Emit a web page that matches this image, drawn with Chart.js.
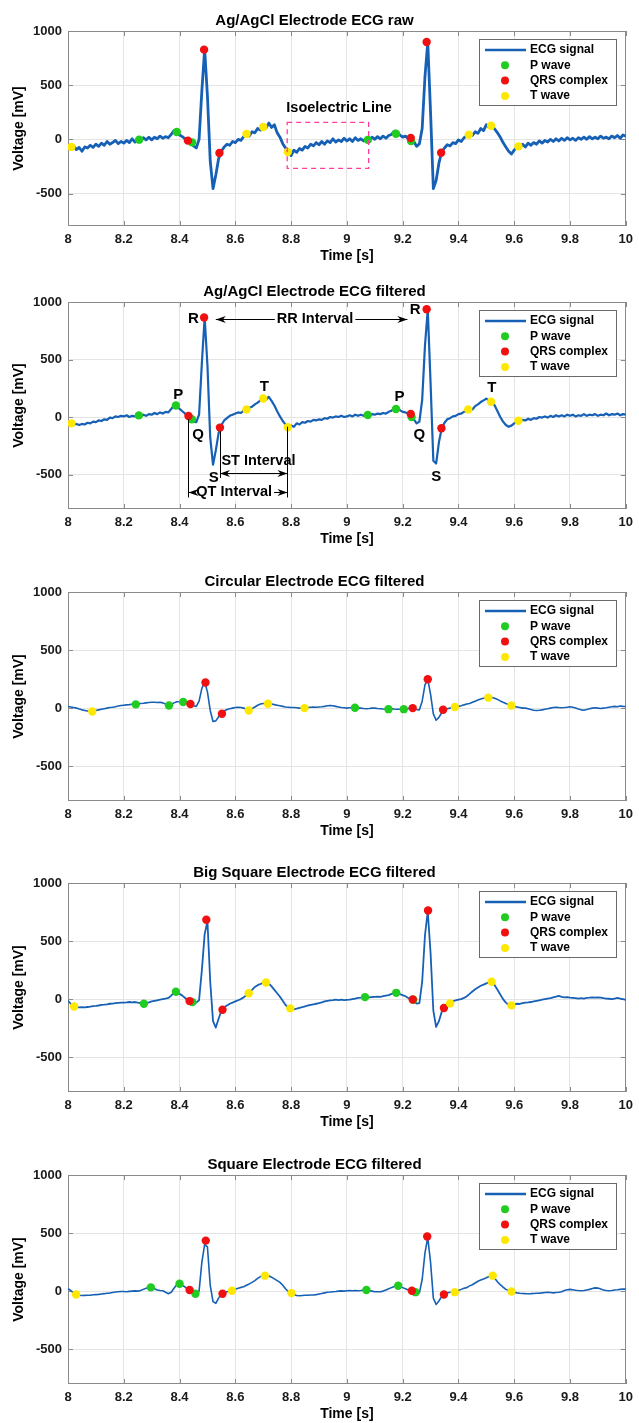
<!DOCTYPE html>
<html>
<head>
<meta charset="utf-8">
<title>ECG electrodes</title>
<script src="https://cdn.jsdelivr.net/npm/chart.js@4.4.0/dist/chart.umd.min.js"></script>
<style>
    body { margin: 0; background: #fff; width: 639px; height: 1423px; position: relative; overflow: hidden; }
    canvas { position: absolute; left: 0; }
</style>
</head>
<body>
<canvas id="ecg1"></canvas>
<canvas id="ecg2"></canvas>
<canvas id="ecg3"></canvas>
<canvas id="ecg4"></canvas>
<canvas id="ecg5"></canvas>
<script>
// ---- data (mV, sampled every 10 ms from 8.00 s to 10.00 s) ----
const sampleStart = 8.0;
const sampleStep = 0.01;

const xTicks = [8, 8.2, 8.4, 8.6, 8.8, 9, 9.2, 9.4, 9.6, 9.8, 10];
const yTicks = [-500, 0, 500, 1000];

const rawAgAgCl = [
    -70, -85, -60, -95, -75, -110, -70, -80, -55, -75,
    -45, -65, -35, -55, -20, -45, -30, -10, -40, -20,
    -35, -10, -30, 5, -25, -5, -20, 15, -5, 20,
    -5, 20, 5, 30, 10, 25, 15, 45, 80, 65,
    40, 25, 5, -10, -25, -60, -80, 0, 450, 830,
    400, -200, -455, -330, -180, -110, -70, -45, -55, -20,
    -30, 0, -10, 25, 45, 30, 70, 60, 100, 85,
    125, 105, 150, 110, 135, 60, 20, -40, -80, -115,
    -150, -100, -120, -85, -100, -65, -80, -45, -60, -30,
    -50, -20, -45, -15, -30, 5, -25, -5, -20, 10,
    -15, 5, -20, 15, -10, 5, -15, 10, -5, 20,
    0, 25, 5, 30, 10, 35, 45, 75, 55, 40,
    20, 30, 5, 10, -20, -65, -40, 100, 580, 895,
    250, -455, -380, -220, -115, -80, -50, -60, -30, -40,
    -5, -20, 15, 30, 45, 35, 70, 55, 100, 80,
    135, 110, 130, 95, 60, 20, -30, -70, -110, -135,
    -100, -70, -85, -45, -70, -35, -55, -30, -45, -15,
    -35, -10, -25, 0, -20, 5, -15, 10, -10, 15,
    -5, 10, -10, 15, 0, 20, 0, 25, 5, 20,
    5, 30, 10, 20, 5, 30, 15, 35, 10, 40, 30
];
const rawP = [[8.255, -3], [8.39, 68], [8.445, -28], [9.075, -5], [9.176, 52], [9.23, -15]];
const rawQRS = [[8.43, -12], [8.488, 828], [8.543, -126], [9.229, 12], [9.286, 898], [9.338, -123]];
const rawT = [[8.012, -70], [8.64, 50], [8.70, 114], [8.788, -117], [9.437, 43], [9.517, 126], [9.615, -65]];

const filtAgAgCl = [
    -50, -55, -65, -60, -70, -60, -65, -50, -55, -40,
    -45, -30, -35, -20, -25, -5, -10, 5, 0, 10,
    5, 15, 0, 10, 5, 15, 5, 20, 10, 25,
    20, 35, 25, 40, 30, 45, 40, 70, 100, 95,
    70, 50, 30, 10, -15, -40, -45, 20, 470, 865,
    450, -180, -415, -290, -140, -70, -30, -10, 10, 20,
    30, 40, 35, 55, 65, 80, 90, 110, 125, 145,
    160, 150, 175, 140, 100, 50, 5, -35, -65, -90,
    -75, -85, -55, -65, -45, -50, -35, -40, -25, -30,
    -20, -25, -10, -15, 0, -5, 5, 0, 10, 0,
    5, 15, 5, 20, 10, 20, 10, 20, 15, 25,
    20, 30, 25, 35, 30, 45, 55, 75, 80, 60,
    45, 40, 30, 10, -20, -55, -40, 150, 620, 935,
    300, -380, -405, -220, -100, -50, -20, -10, 5, 10,
    25, 30, 45, 55, 70, 65, 95, 110, 130, 145,
    160, 140, 130, 100, 50, 0, -40, -70, -85, -75,
    -55, -35, -40, -25, -30, -15, -25, -10, -15, 0,
    -5, 5, -5, 10, 0, 15, 5, 15, 5, 20,
    10, 20, 5, 15, 10, 25, 10, 20, 15, 25,
    10, 20, 15, 30, 15, 25, 20, 30, 15, 25, 20
];
const filtP = [[8.254, 14], [8.387, 100], [8.444, -20], [9.075, 17], [9.176, 69], [9.232, 0]];
const filtQRS = [[8.432, 9], [8.488, 865], [8.545, -92], [9.229, 26], [9.286, 937], [9.339, -98]];
const filtT = [[8.012, -55], [8.64, 66], [8.70, 161], [8.788, -89], [9.435, 66], [9.517, 132], [9.615, -32]];

const circular = [
    14, 10, 5, 0, -8, -15, -20, -25, -28, -25,
    -20, -15, -10, -5, 0, 5, 8, 12, 18, 22,
    25, 28, 30, 33, 35, 38, 40, 42, 45, 48,
    50, 50, 48, 50, 45, 35, 25, 30, 45, 55,
    55, 52, 45, 38, 30, 20, 15, 60, 170, 225,
    140, -20, -115, -110, -75, -45, -25, -12, -5, 0,
    5, 8, 5, 0, -10, -15, -5, 10, 25, 35,
    40, 42, 40, 35, 30, 25, 20, 15, 10, 8,
    5, 5, 3, 0, 0, 3, 5, 8, 10, 8,
    10, 12, 15, 20, 22, 20, 15, 10, 5, 3,
    0, 3, 5, 3, 0, 0, -3, -5, -3, 0,
    0, -3, -5, -8, -10, -8, -5, -8, -10, -10,
    -8, -5, -3, 0, -5, -12, -15, 60, 200, 250,
    120, -50, -105, -80, -40, -15, -5, 0, 5, 10,
    15, 20, 28, 35, 40, 50, 60, 70, 78, 85,
    92, 96, 92, 85, 75, 62, 50, 40, 30, 22,
    15, 10, 5, 0, 0, -5, -12, -18, -20, -18,
    -15, -10, -5, 0, 5, 8, 5, 3, 5, 8,
    12, 8, 0, -8, -15, -18, -12, -5, 0, 3,
    0, -3, 0, 3, 8, 12, 15, 12, 18, 15, 14
];
const circP = [[8.243, 32], [8.362, 23], [8.413, 52], [9.029, 3], [9.149, -9], [9.204, -9]];
const circQRS = [[8.439, 35], [8.493, 220], [8.552, -49], [9.236, 0], [9.29, 249], [9.345, -14]];
const circT = [[8.087, -29], [8.648, -20], [8.717, 38], [8.848, 0], [9.387, 9], [9.507, 90], [9.59, 23]];

const bigSquare = [
    -14, -40, -60, -68, -72, -70, -72, -68, -65, -60,
    -58, -55, -50, -48, -45, -40, -38, -35, -32, -30,
    -30, -28, -25, -28, -25, -30, -35, -40, -35, -28,
    -20, -15, -10, -5, 0, 5, 10, 30, 55, 60,
    45, 30, 10, -10, -22, -28, -30, -10, 250, 560,
    670, 150, -190, -245, -170, -100, -70, -55, -40, -30,
    -20, -10, 0, 15, 35, 55, 80, 105, 120, 130,
    140, 140, 135, 110, 80, 50, 20, -15, -50, -75,
    -90, -88, -82, -75, -70, -62, -55, -50, -45, -40,
    -35, -28, -20, -15, -10, -8, -5, -8, -5, -8,
    -6, -5, 0, 5, 10, 12, 15, 18, 15, 18,
    20, 22, 20, 25, 30, 35, 45, 52, 50, 42,
    35, 25, 10, -3, -20, -38, -35, 150, 550, 755,
    400, -100, -240, -190, -110, -70, -50, -35, -20, -10,
    -5, 0, 10, 25, 45, 65, 85, 100, 115, 125,
    135, 145, 145, 120, 80, 40, 0, -30, -50, -55,
    -45, -40, -42, -35, -30, -28, -25, -20, -15, -10,
    -5, 0, 5, 8, 15, 22, 28, 20, 15, 18,
    12, 10, 8, 5, 8, 5, 10, 12, 15, 12,
    15, 12, 8, 5, 3, 0, 5, 10, 5, 0, -6
];
const bigP = [[8.272, -40], [8.387, 63], [8.446, -26], [9.065, 17], [9.177, 54], [9.238, -5]];
const bigQRS = [[8.436, -17], [8.496, 683], [8.554, -91], [9.236, -3], [9.291, 763], [9.348, -77]];
const bigT = [[8.022, -63], [8.648, 51], [8.71, 143], [8.797, -80], [9.37, -37], [9.519, 149], [9.59, -54]];

const square = [
    20, 5, -15, -28, -35, -38, -37, -36, -35, -32,
    -30, -28, -25, -22, -18, -17, -12, -8, -5, -3,
    -3, -5, -2, 0, 2, 0, 5, 15, 25, 32,
    30, 20, 10, 5, 3, -10, -22, -10, 25, 55,
    62, 50, 35, 15, 5, -15, -25, 0, 250, 400,
    380, 50, -90, -105, -60, -25, -10, -5, 0, 5,
    15, 25, 32, 38, 50, 62, 75, 90, 110, 125,
    133, 135, 130, 120, 105, 90, 75, 50, 20, -5,
    -18, -30, -38, -40, -38, -36, -35, -34, -33, -30,
    -25, -20, -15, -10, -8, -5, -3, 0, 2, 0,
    3, 5, 3, 5, 3, 5, 8, 9, 5, 0,
    -5, -6, -5, 0, 10, 20, 30, 40, 45, 40,
    30, 20, 10, 3, -5, -20, -15, 100, 330, 460,
    250, -60, -115, -85, -45, -25, -15, -10, -8, -5,
    5, 15, 25, 30, 45, 55, 70, 85, 95, 105,
    115, 125, 130, 110, 80, 55, 35, 15, 5, -3,
    -10, -15, -18, -20, -22, -23, -22, -20, -18, -17,
    -15, -12, -10, -12, -15, -12, -10, -5, 5, 12,
    15, 12, 8, 5, 3, 5, 10, 15, 22, 28,
    26, 18, 10, 5, 3, 5, 10, 12, 15, 18, 17
];
const sqP = [[8.297, 32], [8.40, 63], [8.457, -23], [9.07, 9], [9.184, 46], [9.246, -9]];
const sqQRS = [[8.436, 9], [8.494, 435], [8.554, -23], [9.233, 3], [9.288, 470], [9.348, -29]];
const sqT = [[8.029, -29], [8.588, 3], [8.706, 133], [8.801, -17], [9.387, -9], [9.523, 133], [9.59, -3]];

// ---- annotations ----
const isoBox = { from: [8.786, 157], to: [9.078, -268], label: 'Isoelectric Line', labelAt: [8.972, 286] };
const waveLetters = [
    ['R', 8.45, 853], ['P', 8.395, 190], ['Q', 8.466, -155], ['S', 8.523, -526], ['T', 8.704, 258],
    ['R', 9.245, 931], ['P', 9.189, 172], ['Q', 9.26, -155], ['S', 9.32, -517], ['T', 9.52, 250]
];
const intervalGuides = [[8.432, -20, -700], [8.545, -125, -530], [8.787, -85, -700]];
const intervalArrows = [
    { label: 'RR Interval', from: 8.53, to: 9.217, at: 853, textX: 8.886, textY: 853, gap: true },
    { label: 'ST Interval', from: 8.545, to: 8.787, at: -483, textX: 8.55, textY: -379, gap: false },
    { label: 'QT Interval', from: 8.432, to: 8.787, at: -655, textX: 8.596, textY: -655, gap: true }
];

// ---- style ----
const FONT = "'Liberation Sans', Arial, Helvetica, sans-serif";
const ECG_BLUE = '#1660b5';
const GREEN = '#1fcc1f';
const RED = '#f01010';
const YELLOW = '#ffe800';
const BOX_GRAY = '#8a8a8a';
const GRID_GRAY = '#e4e4e4';
const TITLE_H = 26;
const XAXIS_H = 39;

Chart.defaults.font.family = FONT;
Chart.defaults.color = '#1a1a1a';

function toSeries(values) {
    return values.map((v, i) => ({ x: sampleStart + i * sampleStep, y: v }));
}

function toPoints(pairs) {
    return pairs.map(([x, y]) => ({ x: x, y: y }));
}

// Axes box with inward tick marks (all four sides)
const frame = {
    id: 'frame',
    beforeDatasetsDraw(chart) {
        const { ctx, chartArea: a, scales: { x, y } } = chart;
        ctx.save();
        ctx.strokeStyle = BOX_GRAY;
        ctx.lineWidth = 1;
        ctx.beginPath();
        xTicks.forEach(v => {
            const px = Math.round(x.getPixelForValue(v)) + 0.5;
            ctx.moveTo(px, a.bottom); ctx.lineTo(px, a.bottom - 5);
            ctx.moveTo(px, a.top); ctx.lineTo(px, a.top + 5);
        });
        yTicks.forEach(v => {
            const py = Math.round(y.getPixelForValue(v)) + 0.5;
            ctx.moveTo(a.left, py); ctx.lineTo(a.left + 5, py);
            ctx.moveTo(a.right, py); ctx.lineTo(a.right - 5, py);
        });
        ctx.stroke();
        ctx.strokeRect(Math.round(a.left) + 0.5, Math.round(a.top) + 0.5, Math.round(a.width) - 1, Math.round(a.height) - 1);
        ctx.restore();
    }
};

// MATLAB style boxed legend in the top right corner
const boxLegend = {
    id: 'boxLegend',
    afterDraw(chart) {
        const { ctx, chartArea: a } = chart;
        const w = 137, h = 66;
        const left = Math.round(a.right - 10 - w), top = Math.round(a.top + 8);
        ctx.save();
        ctx.fillStyle = '#fff';
        ctx.fillRect(left, top, w, h);
        ctx.strokeStyle = '#6a6a6a';
        ctx.lineWidth = 1;
        ctx.strokeRect(left + 0.5, top + 0.5, w, h);
        ctx.font = 'bold 12px ' + FONT;
        ctx.textBaseline = 'middle';
        chart.data.datasets.forEach((ds, i) => {
            const cy = top + 11 + i * 15.3;
            if (ds.type === 'scatter') {
                ctx.fillStyle = ds.backgroundColor;
                ctx.beginPath();
                ctx.arc(left + 26, cy, 4, 0, Math.PI * 2);
                ctx.fill();
            } else {
                ctx.strokeStyle = ds.borderColor;
                ctx.lineWidth = 2.5;
                ctx.beginPath();
                ctx.moveTo(left + 6, cy); ctx.lineTo(left + 47, cy);
                ctx.stroke();
            }
            ctx.fillStyle = '#000';
            ctx.fillText(ds.label, left + 51, cy);
        });
        ctx.restore();
    }
};

// Dashed "Isoelectric Line" marker on the raw panel
const isoNote = {
    id: 'isoNote',
    afterDatasetsDraw(chart) {
        const { ctx, scales: { x, y } } = chart;
        const x1 = x.getPixelForValue(isoBox.from[0]), y1 = y.getPixelForValue(isoBox.from[1]);
        const x2 = x.getPixelForValue(isoBox.to[0]), y2 = y.getPixelForValue(isoBox.to[1]);
        ctx.save();
        ctx.strokeStyle = '#ff3d9e';
        ctx.lineWidth = 1.3;
        ctx.setLineDash([5, 4]);
        ctx.strokeRect(x1, y1, x2 - x1, y2 - y1);
        ctx.setLineDash([]);
        ctx.fillStyle = '#000';
        ctx.font = 'bold 14.5px ' + FONT;
        ctx.textAlign = 'center';
        ctx.textBaseline = 'middle';
        ctx.fillText(isoBox.label, x.getPixelForValue(isoBox.labelAt[0]), y.getPixelForValue(isoBox.labelAt[1]));
        ctx.restore();
    }
};

function arrowHead(ctx, tipX, tipY, dir) {
    ctx.beginPath();
    ctx.moveTo(tipX, tipY);
    ctx.lineTo(tipX - dir * 10, tipY - 3.5);
    ctx.lineTo(tipX - dir * 7, tipY);
    ctx.lineTo(tipX - dir * 10, tipY + 3.5);
    ctx.closePath();
    ctx.fill();
}

// P/Q/R/S/T letters and RR / ST / QT interval arrows
const waveNotes = {
    id: 'waveNotes',
    afterDatasetsDraw(chart) {
        const { ctx, scales: { x, y } } = chart;
        const px = v => x.getPixelForValue(v), py = v => y.getPixelForValue(v);
        ctx.save();
        ctx.strokeStyle = '#000';
        ctx.fillStyle = '#000';
        ctx.lineWidth = 1;
        ctx.beginPath();
        intervalGuides.forEach(([t, v1, v2]) => {
            const gx = Math.round(px(t)) + 0.5;
            ctx.moveTo(gx, py(v1)); ctx.lineTo(gx, py(v2));
        });
        ctx.stroke();

        ctx.font = 'bold 14.5px ' + FONT;
        ctx.textBaseline = 'middle';
        intervalArrows.forEach(arr => {
            const ax1 = px(arr.from), ax2 = px(arr.to), ay = Math.round(py(arr.at)) + 0.5;
            ctx.beginPath();
            ctx.moveTo(ax1, ay); ctx.lineTo(ax2, ay);
            ctx.stroke();
            const tx = px(arr.textX), ty = py(arr.textY);
            const tw = ctx.measureText(arr.label).width;
            if (arr.gap) {
                ctx.fillStyle = '#fff';
                ctx.fillRect(tx - tw / 2 - 2, ty - 8, tw + 4, 16);
                ctx.fillStyle = '#000';
                ctx.textAlign = 'center';
            } else {
                ctx.textAlign = 'left';
            }
            ctx.fillText(arr.label, tx, ty);
            arrowHead(ctx, ax1, ay, -1);
            arrowHead(ctx, ax2, ay, 1);
        });

        ctx.font = 'bold 15px ' + FONT;
        ctx.textAlign = 'center';
        waveLetters.forEach(([s, t, v]) => ctx.fillText(s, px(t), py(v)));
        ctx.restore();
    }
};

const panels = [
    { id: 'ecg1', title: 'Ag/AgCl Electrode ECG raw', signal: rawAgAgCl, p: rawP, qrs: rawQRS, t: rawT, plotTop: 31, plotH: 195, lw: 2.8, extra: [isoNote] },
    { id: 'ecg2', title: 'Ag/AgCl Electrode ECG filtered', signal: filtAgAgCl, p: filtP, qrs: filtQRS, t: filtT, plotTop: 302, plotH: 207, lw: 2.2, extra: [waveNotes] },
    { id: 'ecg3', title: 'Circular Electrode ECG filtered', signal: circular, p: circP, qrs: circQRS, t: circT, plotTop: 592, plotH: 209, lw: 1.6, extra: [] },
    { id: 'ecg4', title: 'Big Square Electrode ECG filtered', signal: bigSquare, p: bigP, qrs: bigQRS, t: bigT, plotTop: 883, plotH: 209, lw: 1.8, extra: [] },
    { id: 'ecg5', title: 'Square Electrode ECG filtered', signal: square, p: sqP, qrs: sqQRS, t: sqT, plotTop: 1175, plotH: 209, lw: 1.6, extra: [] }
];

function makePanel(cfg) {
    const canvas = document.getElementById(cfg.id);
    canvas.width = 639;
    canvas.height = TITLE_H + cfg.plotH + XAXIS_H;
    canvas.style.top = (cfg.plotTop - TITLE_H) + 'px';

    const marker = (label, pts, color, order) => ({
        type: 'scatter', label: label, data: toPoints(pts),
        backgroundColor: color, borderColor: color, borderWidth: 0,
        pointRadius: 4.2, order: order
    });

    return new Chart(canvas, {
        type: 'line',
        data: {
            datasets: [
                {
                    label: 'ECG signal', data: toSeries(cfg.signal),
                    borderColor: ECG_BLUE, borderWidth: cfg.lw, pointRadius: 0,
                    borderJoinStyle: 'round', tension: 0, fill: false, order: 4
                },
                marker('P wave', cfg.p, GREEN, 3),
                marker('QRS complex', cfg.qrs, RED, 2),
                marker('T wave', cfg.t, YELLOW, 1)
            ]
        },
        options: {
            responsive: false,
            animation: false,
            layout: { padding: { left: 0, right: 10, top: 0, bottom: 0 } },
            plugins: {
                legend: { display: false },
                tooltip: { enabled: false },
                title: {
                    display: true, text: cfg.title, color: '#000',
                    font: { size: 15, weight: 'bold', lineHeight: '16px' },
                    padding: { top: 8, bottom: 2 }
                }
            },
            scales: {
                x: {
                    type: 'linear', min: 8, max: 10,
                    afterBuildTicks: s => { s.ticks = xTicks.map(v => ({ value: v })); },
                    afterFit: s => { s.height = XAXIS_H; },
                    grid: { color: GRID_GRAY, drawTicks: false },
                    border: { display: false },
                    ticks: {
                        padding: 6, autoSkip: false, maxRotation: 0, color: '#1a1a1a',
                        font: { size: 13, weight: 'bold' },
                        callback: v => String(Math.round(v * 10) / 10)
                    },
                    title: {
                        display: true, text: 'Time [s]', color: '#000',
                        font: { size: 14, weight: 'bold' }, padding: { top: 0, bottom: 0 }
                    }
                },
                y: {
                    min: -800, max: 1000,
                    afterBuildTicks: s => { s.ticks = yTicks.map(v => ({ value: v })); },
                    afterFit: s => { s.width = 68; },
                    grid: { color: GRID_GRAY, drawTicks: false },
                    border: { display: false },
                    ticks: {
                        padding: 6, color: '#1a1a1a',
                        font: { size: 13, weight: 'bold' },
                        callback: v => String(v)
                    },
                    title: {
                        display: true, text: 'Voltage [mV]', color: '#000',
                        font: { size: 14, weight: 'bold' }, padding: { top: 11, bottom: 0 }
                    }
                }
            }
        },
        plugins: [frame, boxLegend].concat(cfg.extra)
    });
}

panels.forEach(makePanel);
</script>
</body>
</html>
